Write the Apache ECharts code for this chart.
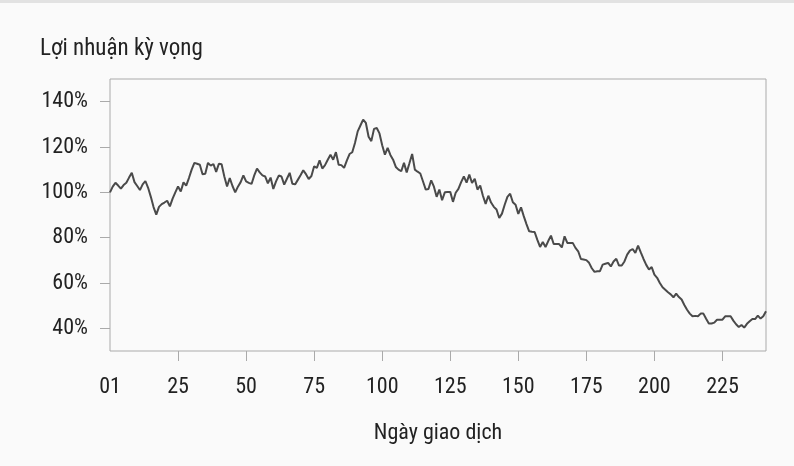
<!DOCTYPE html>
<html><head><meta charset="utf-8">
<script src="https://cdn.jsdelivr.net/npm/echarts@6/dist/echarts.min.js"></script>
<style>html,body{margin:0;padding:0;background:#fafafa}#c{width:794px;height:466px}</style>
</head><body><div id="c"></div>
<script>
const titleText = "Lợi nhuận kỳ vọng";
const xAxisName = "Ngày giao dịch";
const xLabels = [0, 25, 50, 75, 100, 125, 150, 175, 200, 225];
const xTickMarks = [25, 50, 75, 100, 125, 150, 175, 200, 225];
const yTicks = [40, 60, 80, 100, 120, 140];
const returns = [
100,102.5,104.2,103,101.6,103.2,104.2,106.5,108.6,104.5,
102.8,101,103.5,105,102,98,93.5,90.2,93.6,94.8,
95.5,96.3,93.8,97.2,100,102.6,100.4,104.4,103,106.3,
110,113,112.6,112.2,108,108.2,113,111.8,112.5,109,
112.6,112.4,107,102.6,106.3,102.8,100,102.5,104.5,107.5,
104.8,104.2,103.7,107.5,110.5,108.8,107.5,107,104,106.5,
101.5,104.8,107.4,107,103.4,106,108.6,103.8,103.5,105.5,
107.5,109.7,108,105.9,107.2,111.5,110.8,114.1,110.5,112,
114.4,116.6,114.4,117.7,112.2,112,110.8,114,116.9,117.7,
121.8,126.9,129.5,132.1,130.6,124.5,122.6,128,128.4,126,
120.8,116.6,119.6,116.5,114.4,111.2,110,109.3,113,108.8,
112.8,116.9,110,109.1,108.3,104.8,101.2,101.5,105.3,102.5,
98,101.2,96.5,100,100.1,100.2,95.8,99.8,101.5,104.5,
107,104.3,107.8,104.1,106,101.2,103,98.5,94.9,98.5,
95.5,93.6,92.4,88.7,90.6,94.5,98,99.4,95.6,94.5,
90.5,93.4,89.5,86,82.8,82.6,82.5,79,75.9,78.1,
75.9,78.5,80.9,77.2,77.2,77.2,75.7,80.6,77.7,77.7,
77.7,75.5,74,70.6,70.4,70.1,68.9,66.5,64.9,65.2,
65.2,68.1,68.5,68.9,67.3,69.5,70.7,67.7,67.7,69.5,
72.5,74.3,75,73.3,76.5,73.5,70.6,68,66,67,
63.7,62.3,60,58.1,57,55.9,55,53.7,55.3,53.8,
52.7,50.3,48.2,46.5,45.3,45.5,45.3,46.5,46.5,44.2,
42.1,42.1,42.5,43.8,43.8,43.8,45.3,45.3,45.3,43.4,
41.8,40.6,41.5,40.3,42,43.1,44.1,44.1,45.6,44.3,
45.3,47.5
];
const days = returns.map((_, i) => i);

const FONT = "'Roboto Condensed', 'Liberation Sans Narrow', 'DejaVu Sans Condensed', Roboto, sans-serif";
const chart = echarts.init(document.getElementById('c'));
chart.setOption({
  backgroundColor: '#fafafa',
  animation: false,
  textStyle: { fontFamily: FONT },
  graphic: [
    { type: 'rect', left: 0, top: 0, shape: { width: 794, height: 3 }, style: { fill: '#e2e2e2' } }
  ],
  title: {
    text: titleText, left: 35, top: 33,
    textStyle: { fontFamily: FONT, fontSize: 23, fontWeight: 'normal', color: '#222' }
  },
  grid: { left: 110, right: 28, top: 79, bottom: 115, show: true, borderColor: '#aaa', borderWidth: 1, backgroundColor: 'transparent' },
  xAxis: {
    type: 'value', min: 0, max: 241, interval: 25,
    name: xAxisName, nameLocation: 'middle', nameGap: 71,
    nameTextStyle: { fontFamily: FONT, fontSize: 22, color: '#222' },
    axisLine: { show: false },
    axisTick: { show: true, length: 10, lineStyle: { color: '#aaa' }, customValues: xTickMarks },
    axisLabel: { margin: 25, fontSize: 22, color: '#222', fontFamily: FONT, customValues: xLabels,
      formatter: v => v === 0 ? '01' : String(v) },
    splitLine: { show: false }
  },
  yAxis: {
    type: 'value', min: 30, max: 150,
    axisLine: { show: false },
    axisTick: { show: true, length: 10, lineStyle: { color: '#aaa' }, customValues: yTicks },
    axisLabel: { margin: 22, fontSize: 22, color: '#222', fontFamily: FONT, customValues: yTicks,
      formatter: v => v + '%' },
    splitLine: { show: false }
  },
  series: [{
    type: 'line', data: days.map((d, i) => [d, returns[i]]),
    showSymbol: false, lineStyle: { color: '#4a4a4a', width: 2 }, itemStyle: { color: '#4a4a4a' }
  }]
});
</script></body></html>
